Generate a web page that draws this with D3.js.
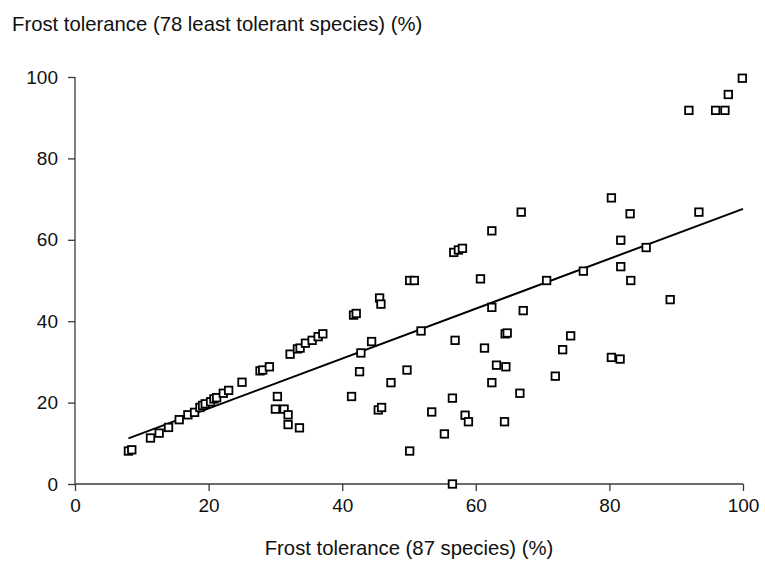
<!DOCTYPE html>
<html>
<head>
<meta charset="utf-8">
<script src="https://cdn.jsdelivr.net/npm/d3@7"></script>
<style>
  html, body { margin: 0; padding: 0; background: #fff; }
  svg text { font-family: "Liberation Sans", Arial, Helvetica, sans-serif; fill: #111; }
</style>
</head>
<body>
<svg id="chart" width="765" height="561"></svg>
<script>
// ---- data ----
const xValues = [
  8.0, 8.5, 11.3, 12.6, 14.0, 15.6, 16.9, 17.9, 18.7, 19.1, 19.5, 20.3, 20.8, 21.2,
  22.2, 23.0, 25.0, 27.7, 28.1, 29.1, 30.3, 30.0, 31.3, 31.9, 31.9, 33.6,
  32.2, 33.3, 33.7, 34.5, 35.5, 36.4, 37.1,
  41.4, 41.7, 42.1, 42.6, 42.8, 44.4, 45.4, 45.9, 45.6, 45.8, 47.3, 49.7,
  50.1, 50.1, 50.8, 51.8, 53.4, 55.3, 56.5, 56.5, 56.9, 56.7, 57.4, 58.0,
  58.4, 58.9, 60.7, 61.3, 62.4, 62.4, 62.4, 63.1, 64.3, 64.4, 64.7, 64.5,
  66.6, 66.8, 67.1, 70.6, 71.9, 73.0, 74.2, 76.1, 80.3, 80.3, 81.6, 81.7,
  81.7, 83.1, 83.2, 85.5, 89.1, 91.9, 93.4, 95.9, 97.3, 97.8, 99.9
];
const yValues = [
  8.1, 8.4, 11.3, 12.5, 13.9, 15.8, 17.0, 17.6, 18.8, 19.3, 19.7, 20.2, 20.9, 21.2,
  22.3, 23.0, 25.0, 27.8, 28.0, 28.8, 21.5, 18.4, 18.4, 17.0, 14.6, 13.8,
  31.9, 33.2, 33.4, 34.6, 35.3, 36.2, 36.9,
  21.5, 41.5, 41.9, 27.6, 32.2, 35.0, 18.2, 18.8, 45.7, 44.2, 24.9, 28.0,
  8.1, 50.0, 50.0, 37.6, 17.7, 12.3, 0.0, 21.1, 35.3, 56.9, 57.5, 57.9,
  16.9, 15.3, 50.4, 33.4, 43.4, 24.9, 62.2, 29.2, 15.3, 36.9, 37.1, 28.8,
  22.3, 66.8, 42.6, 50.0, 26.5, 33.0, 36.4, 52.3, 70.3, 31.1, 30.7, 59.9,
  53.4, 66.4, 50.0, 58.1, 45.3, 91.8, 66.8, 91.8, 91.8, 95.7, 99.7
];
const trendX = [8, 100];
const trendY = [11.2, 67.6];
const xTicks = [0, 20, 40, 60, 80, 100];
const yTicks = [0, 20, 40, 60, 80, 100];
const xTitle = "Frost tolerance (87 species) (%)";
const yTitle = "Frost tolerance (78 least tolerant species) (%)";

// ---- layout ----
const svg = d3.select("#chart");
const x = d3.scaleLinear().domain([0, 100]).range([75, 743]);
const y = d3.scaleLinear().domain([0, 100]).range([484, 77]);

const axisColor = "#3a3a3a";
const fontSize = 19;

// x axis
const gx = svg.append("g").attr("transform", `translate(0,${y(0)})`)
  .call(d3.axisBottom(x).tickValues(xTicks).tickSize(7).tickPadding(8).tickFormat(d3.format("d")));
gx.select(".domain").attr("stroke", axisColor).attr("stroke-width", 1.3).attr("d", `M${x(0)},0H${x(100)}`);
gx.selectAll(".tick line").attr("stroke", axisColor).attr("stroke-width", 1.3);
gx.selectAll(".tick text").attr("font-size", fontSize).attr("fill", "#111");

// y axis
const gy = svg.append("g").attr("transform", `translate(${x(0)},0)`)
  .call(d3.axisLeft(y).tickValues(yTicks).tickSize(7).tickPadding(10).tickFormat(d3.format("d")));
gy.select(".domain").attr("stroke", axisColor).attr("stroke-width", 1.3).attr("d", `M0,${y(0)}V${y(100)}`);
gy.selectAll(".tick line").attr("stroke", axisColor).attr("stroke-width", 1.3);
gy.selectAll(".tick text").attr("font-size", fontSize).attr("fill", "#111");

// axis titles
svg.append("text").attr("x", 12).attr("y", 31).attr("font-size", 20.3).text(yTitle);
svg.append("text").attr("x", 409).attr("y", 555)
  .attr("text-anchor", "middle").attr("font-size", 20.3).text(xTitle);

// trend line
svg.append("line")
  .attr("x1", x(trendX[0])).attr("y1", y(trendY[0]))
  .attr("x2", x(trendX[1])).attr("y2", y(trendY[1]))
  .attr("stroke", "#000").attr("stroke-width", 2);

// points
const pts = xValues.map((v, i) => ({ x: v, y: yValues[i] }));
const s = 7.5;
svg.append("g").selectAll("rect").data(pts).join("rect")
  .attr("x", d => x(d.x) - s / 2).attr("y", d => y(d.y) - s / 2)
  .attr("width", s).attr("height", s)
  .attr("fill", "#fff").attr("stroke", "#000").attr("stroke-width", 1.8);
</script>
</body>
</html>
